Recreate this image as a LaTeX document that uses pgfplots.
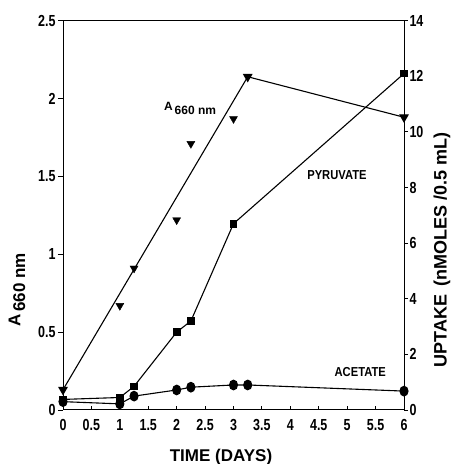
\documentclass[border=0pt]{standalone}
\usepackage{pgfplots}
\pgfplotsset{compat=1.18}
\usepackage{fontspec}
\setmainfont{Liberation Sans}
\usepackage{graphicx}
\newcommand{\tl}[1]{\scalebox{0.78}[1]{#1}}
\begin{document}
\begin{tikzpicture}
\pgfplotsset{
  base/.style={scale only axis, width=341pt, height=389.3pt, xmin=0, xmax=6,
    axis line style={line width=1pt}, clip=false,
    every tick/.style={black, line width=0.9pt},
    tick label style={font=\bfseries\fontsize{16}{16}\selectfont},
  }
}
% main box + x ticks (inside)
\begin{axis}[base, ymin=0, ymax=2.5,
  tick align=inside, major tick length=4pt,
  xtick={0,0.5,...,6}, xtick pos=bottom,
  xticklabels={\tl{0},\tl{0.5},\tl{1},\tl{1.5},\tl{2},\tl{2.5},\tl{3},\tl{3.5},\tl{4},\tl{4.5},\tl{5},\tl{5.5},\tl{6}},
  xticklabel style={yshift=-6pt},
  ytick=\empty]
\coordinate (SW) at (rel axis cs:0,0);
\coordinate (NE) at (rel axis cs:1,1);
\addplot[black, line width=1.1pt, mark=triangle*, mark size=4.6pt, mark options={rotate=180}]
  coordinates {(0,0.13) (3.25,2.14) (6,1.88)};
\addplot[only marks, black, mark=triangle*, mark size=4.6pt, mark options={rotate=180}]
  coordinates {(1,0.67) (1.25,0.91) (2,1.22) (2.25,1.71) (3,1.87)};
\end{axis}
% left y axis (outside ticks)
\begin{axis}[base, ymin=0, ymax=2.5, axis x line=none, axis y line*=left,
  tick align=outside, major tick length=5pt,
  ytick={0,0.5,1,1.5,2,2.5},
  yticklabels={\tl{0},\tl{0.5},\tl{1},\tl{1.5},\tl{2},\tl{2.5}},
  yticklabel style={xshift=1pt}]
\end{axis}
% right y axis
\begin{axis}[base, ymin=0, ymax=14, axis x line=none, axis y line*=right,
  tick align=outside, major tick length=4pt,
  ytick={0,2,4,6,8,10,12,14},
  yticklabels={\tl{0},\tl{2},\tl{4},\tl{6},\tl{8},\tl{10},\tl{12},\tl{14}},
  yticklabel style={xshift=-2pt}]
\addplot[black, line width=1.1pt, mark=square*, mark size=3.3pt]
  coordinates {(0,0.38) (1,0.45) (1.25,0.85) (2,2.8) (2.25,3.2) (3,6.7) (6,12.1)};
\addplot[black, line width=1.1pt, mark=*, mark size=4pt, mark options={yscale=1.2}]
  coordinates {(0,0.3) (1,0.22) (1.25,0.5) (2,0.72) (2.25,0.82) (3,0.9) (3.25,0.9) (6,0.68)};
\node[font=\bfseries\fontsize{12}{12}\selectfont] at (axis cs:2.235,10.85) {A\,\raisebox{-0.55ex}{660 nm}};
\node[font=\bfseries\fontsize{13}{13}\selectfont] at (axis cs:4.82,8.45) {\scalebox{0.86}[1]{PYRUVATE}};
\node[font=\bfseries\fontsize{13}{13}\selectfont] at (axis cs:5.23,1.37) {\scalebox{0.86}[1]{ACETATE}};
\end{axis}
\node[font=\bfseries\fontsize{17}{17}\selectfont] at ([shift={(158pt,-47pt)}]SW) {TIME (DAYS)};
\node[font=\bfseries\fontsize{17}{17}\selectfont, rotate=90] at ([shift={(-46pt,120pt)}]SW) {A\,\raisebox{-0.55ex}{660 nm}};
\node[font=\bfseries\fontsize{18}{18}\selectfont, rotate=90] at ([shift={(38pt,-229pt)}]NE) {UPTAKE\, (nMOLES /0.5 mL)};
\pgfresetboundingbox
\path[use as bounding box] ([shift={(-63pt,-54pt)}]SW) rectangle ([shift={(47pt,20.7pt)}]NE);
\end{tikzpicture}
\end{document}
